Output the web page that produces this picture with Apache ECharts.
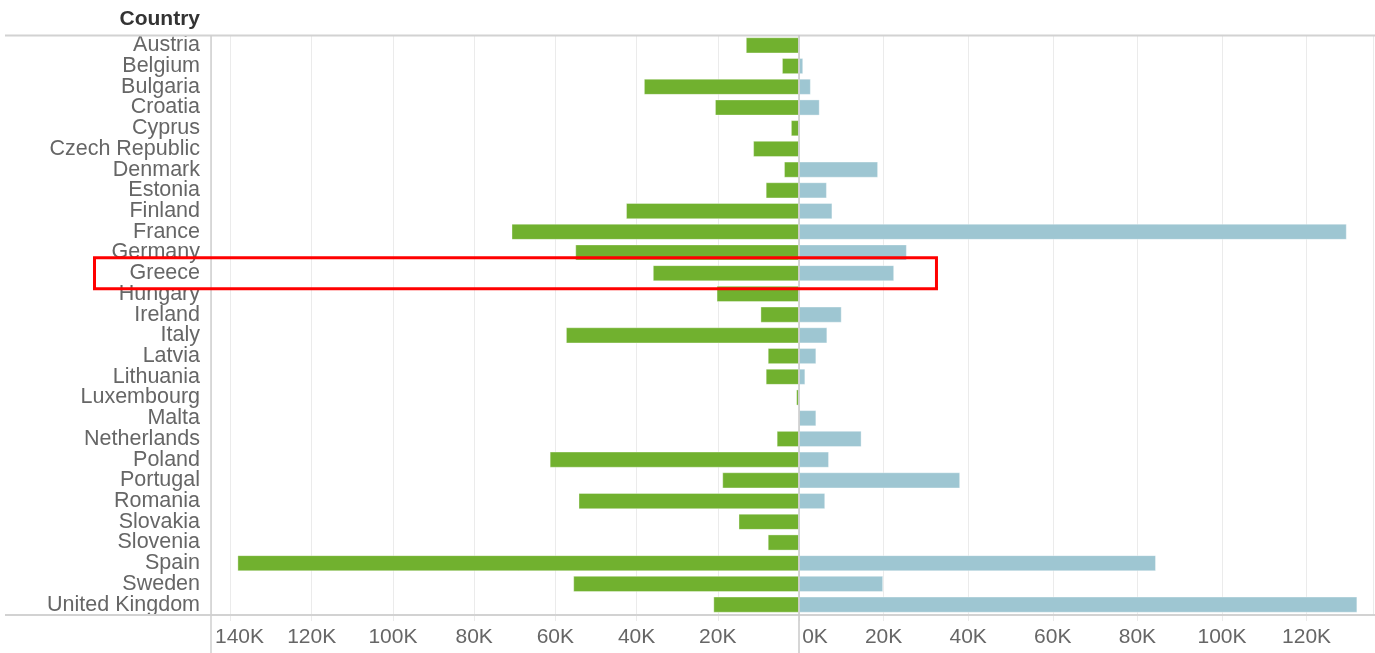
<!DOCTYPE html>
<html>
<head>
<meta charset="utf-8">
<script src="https://cdn.jsdelivr.net/npm/echarts@6/dist/echarts.min.js"></script>
<style>
html,body{margin:0;padding:0;background:#fff;}
#chart{width:1375px;height:653px;}
</style>
</head>
<body>
<div id="chart"></div>
<script>
const countries = ["Austria","Belgium","Bulgaria","Croatia","Cyprus","Czech Republic","Denmark","Estonia","Finland","France","Germany","Greece","Hungary","Ireland","Italy","Latvia","Lithuania","Luxembourg","Malta","Netherlands","Poland","Portugal","Romania","Slovakia","Slovenia","Spain","Sweden","United Kingdom"];
// green bars (left side), values in units
const leftValues = [13100,4200,38200,20700,2000,11300,3700,8200,42600,70800,55100,36000,20300,9500,57400,7700,8200,700,0,5500,61400,18900,54300,14900,7700,138300,55600,21100];
// blue bars (right side)
const rightValues = [0,1000,2800,4900,0,0,18700,6600,7900,129500,25500,22500,0,10100,6700,4100,1500,0,4100,14800,7100,38100,6200,0,0,84400,19900,132000];
const leftTicks = [0,20000,40000,60000,80000,100000,120000,140000];
const rightTicks = [0,20000,40000,60000,80000,100000,120000];
const highlight = "Greece";

const FONT = "'Liberation Sans', Arial, sans-serif";
const LABEL_COLOR = "#666666";
const GRID_COLOR = "#ebebeb";
const FRAME_COLOR = "#d2d2d2";
const FS = 21.5;
const TFS = 21;

const chart = echarts.init(document.getElementById('chart'), null, {renderer:'canvas'});

function kfmt(v){ return (v/1000) + 'K'; }

const option = {
  animation:false,
  textStyle:{fontFamily:FONT},
  grid:[
    {left:211, right:576, top:35, bottom:38, containLabel:false},
    {left:799, right:2, top:35, bottom:38, containLabel:false}
  ],
  xAxis:[
    {gridIndex:0, type:'value', inverse:true, min:0, max:144800, interval:20000,
     axisLine:{show:false},
     axisTick:{show:true, length:6, lineStyle:{color:GRID_COLOR}},
     splitLine:{show:true, lineStyle:{color:GRID_COLOR, width:1}},
     axisLabel:{show:true, margin:12, fontSize:TFS, color:LABEL_COLOR, fontFamily:FONT,
       showMaxLabel:false,
       formatter:function(v){
         if(v===0) return '';
         if(v===140000) return '{e|' + kfmt(v) + '}';
         return kfmt(v);
       },
       rich:{e:{fontSize:TFS, color:LABEL_COLOR, fontFamily:FONT, padding:[0,0,0,18]}}
     }
    },
    {gridIndex:1, type:'value', min:0, max:135700, interval:20000,
     axisLine:{show:false},
     axisTick:{show:true, length:6, lineStyle:{color:GRID_COLOR}},
     splitLine:{show:true, lineStyle:{color:GRID_COLOR, width:1}},
     axisLabel:{show:true, margin:12, fontSize:TFS, color:LABEL_COLOR, fontFamily:FONT,
       showMaxLabel:false,
       formatter:function(v){
         if(v===0) return '{z|0K}';
         return kfmt(v);
       },
       rich:{z:{fontSize:TFS, color:LABEL_COLOR, fontFamily:FONT, padding:[0,0,0,32]}}
     }
    }
  ],
  yAxis:[
    {gridIndex:0, type:'category', data:countries, inverse:true,
     axisLine:{show:false}, axisTick:{show:false},
     axisLabel:{interval:0, margin:11, fontSize:FS, color:LABEL_COLOR, fontFamily:FONT, padding:[3,0,0,0]}
    },
    {gridIndex:1, type:'category', data:countries, inverse:true,
     axisLine:{show:false}, axisTick:{show:false}, axisLabel:{show:false}
    }
  ],
  series:[
    {type:'bar', xAxisIndex:0, yAxisIndex:0, data:leftValues, barCategoryGap:'22%',
     itemStyle:{color:'#71b12f', borderColor:'rgba(255,255,255,0.35)', borderWidth:1}},
    {type:'bar', xAxisIndex:1, yAxisIndex:1, data:rightValues, barCategoryGap:'22%',
     itemStyle:{color:'#9ec6d2', borderColor:'rgba(255,255,255,0.35)', borderWidth:1}}
  ]
};
chart.setOption(option);

// frame lines, header and highlight box
const zeroX = chart.convertToPixel({xAxisIndex:1}, 0);
const labelX = chart.convertToPixel({xAxisIndex:0}, 144800);
const gIdx = countries.indexOf(highlight);
const gy = chart.convertToPixel({yAxisIndex:0}, gIdx);
const boxRight = chart.convertToPixel({xAxisIndex:1}, 32500);

chart.setOption({
  graphic:[
    {type:'text', right:1375-200, top:9, z:10,
     style:{text:'Country', font:"bold 21px " + FONT, fill:'#333333', textAlign:'right'}},
    {type:'line', z:20, shape:{x1:5, y1:35.5, x2:1375, y2:35.5}, style:{stroke:FRAME_COLOR, lineWidth:2}},
    {type:'line', z:20, shape:{x1:5, y1:615, x2:1375, y2:615}, style:{stroke:FRAME_COLOR, lineWidth:2}},
    {type:'line', z:20, shape:{x1:labelX, y1:35, x2:labelX, y2:653}, style:{stroke:'#cfcfcf', lineWidth:1.5}},
    {type:'line', z:20, shape:{x1:zeroX, y1:35, x2:zeroX, y2:653}, style:{stroke:'#c8c8c8', lineWidth:1.5}},
    {type:'rect', z:30, shape:{x:94.5, y:gy-15.5, width:boxRight-94.5, height:31},
     style:{fill:'none', stroke:'#ff0000', lineWidth:3}}
  ]
});
</script>
</body>
</html>
